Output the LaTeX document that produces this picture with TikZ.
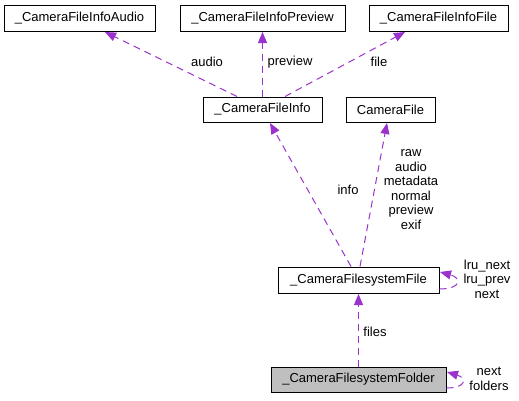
\documentclass[tikz,border=0pt]{standalone}
\usepackage{fontspec}
\setmainfont{Liberation Sans}
\usetikzlibrary{arrows.meta}
\definecolor{edgepurple}{HTML}{9A32CD}
\definecolor{boxgray}{HTML}{BFBFBF}
\tikzset{
  classbox/.style={draw=black, line width=1pt, fill=white, inner sep=0pt,
    minimum height=26pt, font=\fontsize{13}{15}\selectfont},
  rel/.style={draw=edgepurple, line width=1pt, dash pattern=on 7pt off 5pt,
    -{Triangle[length=11pt,width=9pt,fill=edgepurple]}},
  lbl/.style={inner sep=0pt, font=\fontsize{13}{14.5}\selectfont, align=center}
}
\begin{document}
\begin{tikzpicture}[x=1pt,y=-1pt]
\useasboundingbox (0,0) rectangle (519,400);
% nodes
\node[classbox, minimum width=151pt] (audioN) at (79.5,18) {\_CameraFileInfoAudio};
\node[classbox, minimum width=165pt] (previewN) at (262.5,18) {\_CameraFileInfoPreview};
\node[classbox, minimum width=139pt] (fileN) at (438.5,18) {\_CameraFileInfoFile};
\node[classbox, minimum width=119pt, minimum height=25pt] (infoN) at (262.5,109.5) {\_CameraFileInfo};
\node[classbox, minimum width=89pt, minimum height=25pt] (camfileN) at (390.5,109.5) {CameraFile};
\node[classbox, minimum width=161pt] (fsfile) at (358.5,280) {\_CameraFilesystemFile};
\node[classbox, minimum width=175pt, minimum height=25pt, fill=boxgray] (folder) at (358.5,379.5) {\_CameraFilesystemFolder};
% edges
\draw[rel] ([xshift=-25.5pt]infoN.north) -- ([xshift=25.5pt,yshift=-0.5pt]audioN.south);
\draw[rel] (infoN.north) -- ([yshift=-0.5pt]previewN.south);
\draw[rel] ([xshift=22.5pt]infoN.north) -- ([xshift=-33.5pt,yshift=-0.5pt]fileN.south);
\draw[rel] ([xshift=-7.5pt]fsfile.north) -- ([xshift=7.5pt,yshift=-0.5pt]infoN.south);
\draw[rel] ([xshift=1.5pt]fsfile.north) -- ([xshift=-3.5pt,yshift=-0.5pt]camfileN.south);
\draw[rel] (folder.north) -- ([yshift=-0.5pt]fsfile.south);
\draw[rel] ([yshift=-9pt]fsfile.east) .. controls ++(22,0) and ++(22,6) .. ([xshift=0.5pt,yshift=8pt]fsfile.east);
\draw[rel] ([yshift=-8.5pt]folder.east) .. controls ++(20,0) and ++(20,6) .. ([xshift=0.5pt,yshift=7.5pt]folder.east);
% labels
\node[lbl] (laudio) at (207,62) {audio};
\node[lbl] (lpreview) at (290,62) {preview};
\node[lbl] (lfile) at (379,62) {file};
\node[lbl] (linfo) at (348,190) {info};
\node[lbl] (lcam) at (411,189.5) {raw\\audio\\metadata\\normal\\preview\\exif};
\node[lbl] (lfsloop) at (487,279) {lru\_next\\lru\_prev\\next};
\node[lbl] (lfiles) at (375,332) {files};
\node[lbl] (lfolderloop) at (489,379) {next\\folders};
\end{tikzpicture}
\end{document}
